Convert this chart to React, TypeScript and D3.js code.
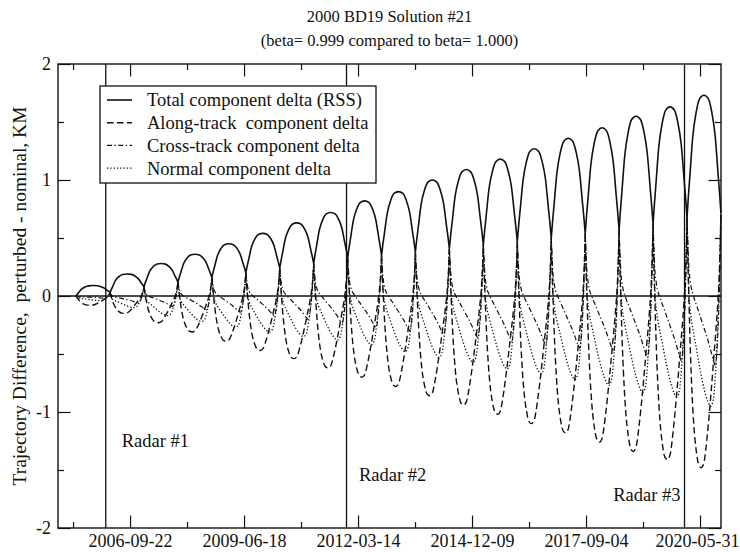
import React, { useRef, useEffect } from 'react';
import * as d3 from 'd3';

// cusp dates bounding each orbital cycle (where all components meet)
const cuspDates = [
  '2005-06-05', '2006-03-31', '2007-01-22', '2007-11-16', '2008-09-09',
  '2009-07-04', '2010-04-27', '2011-02-19', '2011-12-14', '2012-10-06',
  '2013-07-30', '2014-05-24', '2015-03-18', '2016-01-10', '2016-11-03',
  '2017-08-28', '2018-06-21', '2019-04-15', '2020-02-07', '2020-11-30',
];
// height of the meeting point at each cusp, KM
const cuspLevels = [
  0, 0.03, 0.08, 0.12, 0.16, 0.2, 0.24, 0.28, 0.33, 0.35,
  0.38, 0.41, 0.44, 0.47, 0.5, 0.54, 0.57, 0.62, 0.68, 0.72,
];

// extreme value reached in each cycle, KM
const totalPeaks = [
  0.09, 0.19, 0.28, 0.36, 0.45, 0.54, 0.63, 0.72, 0.82, 0.9,
  1.0, 1.09, 1.18, 1.27, 1.36, 1.45, 1.55, 1.63, 1.73,
];
const alongMins = [
  -0.08, -0.15, -0.23, -0.31, -0.39, -0.47, -0.54, -0.62, -0.7, -0.78,
  -0.86, -0.94, -1.02, -1.1, -1.18, -1.26, -1.34, -1.41, -1.48,
];
const crossMins = [
  -0.02, -0.06, -0.09, -0.12, -0.14, -0.17, -0.2, -0.23, -0.27, -0.3,
  -0.33, -0.36, -0.39, -0.42, -0.45, -0.48, -0.53, -0.56, -0.6,
];
const normalMins = [
  -0.04, -0.1, -0.17, -0.22, -0.27, -0.31, -0.35, -0.38, -0.42, -0.48,
  -0.53, -0.57, -0.63, -0.67, -0.72, -0.77, -0.83, -0.87, -0.95,
];

const totalShape: [number, number][] = [
  [0, 0], [0.04, 0.17], [0.08, 0.32], [0.17, 0.66], [0.27, 0.86], [0.37, 0.97],
  [0.5, 1], [0.63, 0.97], [0.73, 0.86], [0.83, 0.66], [0.92, 0.32], [0.96, 0.17], [1, 0],
];
const alongShape: [number, number][] = [
  [0, 0], [0.02, 0.14], [0.05, 0.3], [0.1, 0.54], [0.15, 0.71], [0.2, 0.83],
  [0.27, 0.93], [0.35, 0.99], [0.42, 1], [0.5, 0.98], [0.6, 0.87], [0.7, 0.72],
  [0.8, 0.55], [0.9, 0.37], [0.95, 0.25], [0.98, 0.13], [1, 0],
];
const crossShape: [number, number][] = [
  [0, 0], [0.02, 0.15], [0.05, 0.32], [0.1, 0.44], [0.2, 0.54], [0.3, 0.61],
  [0.4, 0.68], [0.5, 0.75], [0.6, 0.82], [0.7, 0.9], [0.8, 0.98], [0.84, 1],
  [0.89, 0.88], [0.94, 0.6], [0.97, 0.35], [1, 0],
];
const normalShape: [number, number][] = [
  [0, 0], [0.02, 0.15], [0.05, 0.38], [0.1, 0.5], [0.18, 0.6], [0.25, 0.67],
  [0.4, 0.82], [0.55, 0.94], [0.7, 1], [0.78, 0.96], [0.85, 0.8], [0.9, 0.62],
  [0.95, 0.38], [1, 0],
];

const radarDates = ['2006-02-21', '2011-12-04', '2020-01-16'];
const radarLabels = ['Radar #1', 'Radar #2', 'Radar #3'];

const xDomain = ['2004-12-29', '2020-12-01'];
const xTicks = ['2006-09-22', '2009-06-18', '2012-03-14', '2014-12-09', '2017-09-04', '2020-05-31'];
const yTicks = [-2, -1, 0, 1, 2];
const yMinorTicks = [-1.5, -0.5, 0.5, 1.5];

const legendLabels = [
  'Total component delta (RSS)',
  'Along-track  component delta',
  'Cross-track component delta',
  'Normal component delta',
];

const App = () => {
  const ref = useRef<SVGSVGElement | null>(null);

  const width = 740;
  const height = 552;

  useEffect(() => {
    if (!ref.current) return;

    const frame = { left: 58, right: 721, top: 64, bottom: 528 };
    const font = '"Liberation Serif", "Times New Roman", serif';
    const ink = '#111';

    const x = d3
      .scaleUtc()
      .domain(xDomain.map((d) => new Date(d)))
      .range([frame.left, frame.right]);
    const y = d3.scaleLinear().domain([-2, 2]).range([frame.bottom, frame.top]);

    const cusps = cuspDates.map((d) => new Date(d).getTime());

    const lobes = (extremes: number[], shape: [number, number][]) =>
      extremes.map((v, i) => {
        const t0 = cusps[i];
        const t1 = cusps[i + 1];
        return shape.map(([f, r]) => {
          const base = cuspLevels[i] + (cuspLevels[i + 1] - cuspLevels[i]) * f;
          return [t0 + (t1 - t0) * f, base + (v - base) * r] as [number, number];
        });
      });

    const line = d3
      .line<[number, number]>()
      .x((d) => x(d[0]))
      .y((d) => y(d[1]))
      .curve(d3.curveMonotoneX);

    const series = [
      { lobes: lobes(totalPeaks, totalShape), dash: '', w: 1.6 },
      { lobes: lobes(alongMins, alongShape), dash: '6.5,3.5', w: 1.4 },
      { lobes: lobes(crossMins, crossShape), dash: '5,2.5,1.3,2.5', w: 1.2 },
      { lobes: lobes(normalMins, normalShape), dash: '1.3,2', w: 1.3 },
    ];

    const svg = d3.select(ref.current);
    svg.selectAll('*').remove();

    svg.append('rect').attr('width', width).attr('height', height).attr('fill', '#fff');

    // titles
    svg
      .append('text')
      .attr('x', (frame.left + frame.right) / 2)
      .attr('y', 22)
      .attr('text-anchor', 'middle')
      .attr('font-family', font)
      .attr('font-size', 16.5)
      .attr('fill', ink)
      .text('2000 BD19 Solution #21');
    svg
      .append('text')
      .attr('x', (frame.left + frame.right) / 2)
      .attr('y', 46)
      .attr('text-anchor', 'middle')
      .attr('font-family', font)
      .attr('font-size', 16.5)
      .attr('fill', ink)
      .text('(beta= 0.999 compared to beta= 1.000)');

    // y axis title
    svg
      .append('text')
      .attr('transform', `translate(26,${(frame.top + frame.bottom) / 2}) rotate(-90)`)
      .attr('text-anchor', 'middle')
      .attr('font-family', font)
      .attr('font-size', 19.5)
      .attr('fill', ink)
      .style('white-space', 'pre')
      .text('Trajectory Difference,  perturbed - nominal, KM');

    // zero line
    svg
      .append('line')
      .attr('x1', frame.left)
      .attr('x2', frame.right)
      .attr('y1', y(0))
      .attr('y2', y(0))
      .attr('stroke', ink)
      .attr('stroke-width', 1.3);

    // radar epochs
    radarDates.forEach((d, i) => {
      const rx = x(new Date(d));
      svg
        .append('line')
        .attr('x1', rx)
        .attr('x2', rx)
        .attr('y1', frame.top)
        .attr('y2', frame.bottom)
        .attr('stroke', ink)
        .attr('stroke-width', 1.3);
      const pos = [
        { dx: 16, y: 447, anchor: 'start' },
        { dx: 12.5, y: 481, anchor: 'start' },
        { dx: -4, y: 501, anchor: 'end' },
      ][i];
      svg
        .append('text')
        .attr('x', rx + pos.dx)
        .attr('y', pos.y)
        .attr('text-anchor', pos.anchor)
        .attr('font-family', font)
        .attr('font-size', 18.5)
        .attr('fill', ink)
        .text(radarLabels[i]);
    });

    // curves
    svg
      .append('g')
      .selectAll('path')
      .data(series)
      .join('path')
      .attr('d', (s) => s.lobes.map((l) => line(l)).join(''))
      .attr('fill', 'none')
      .attr('stroke', ink)
      .attr('stroke-width', (s) => s.w)
      .attr('stroke-dasharray', (s) => s.dash || null);

    // frame
    svg
      .append('rect')
      .attr('x', frame.left)
      .attr('y', frame.top)
      .attr('width', frame.right - frame.left)
      .attr('height', frame.bottom - frame.top)
      .attr('fill', 'none')
      .attr('stroke', ink)
      .attr('stroke-width', 1.4);

    // axes (ticks point inward on all four sides)
    const majorDates = xTicks.map((d) => new Date(d));
    const minorDates = [d3.utcDay.offset(majorDates[0], -500), ...majorDates.map((d) => d3.utcDay.offset(d, 500))].filter(
      (d) => d >= x.domain()[0] && d <= x.domain()[1]
    );
    const styleAxis = (g: any) => {
      g.select('.domain').remove();
      g.selectAll('line').attr('stroke', ink).attr('stroke-width', 1.2);
      g.selectAll('text').attr('font-family', font).attr('font-size', 18).attr('fill', ink);
    };

    const bottom = svg
      .append('g')
      .attr('transform', `translate(0,${frame.bottom})`)
      .call(d3.axisBottom(x).tickValues(majorDates).tickSize(-12.5).tickPadding(6).tickFormat(d3.utcFormat('%Y-%m-%d') as any))
      .call(styleAxis);
    // keep the last date label inside the page
    bottom
      .selectAll('text')
      .filter((_, i, n) => i === n.length - 1)
      .attr('dx', -3);

    svg
      .append('g')
      .attr('transform', `translate(0,${frame.bottom})`)
      .call(d3.axisBottom(x).tickValues(minorDates).tickSize(-6).tickFormat(() => ''))
      .call(styleAxis);
    svg
      .append('g')
      .attr('transform', `translate(0,${frame.top})`)
      .call(d3.axisTop(x).tickValues(majorDates).tickSize(-12.5).tickFormat(() => ''))
      .call(styleAxis);
    svg
      .append('g')
      .attr('transform', `translate(0,${frame.top})`)
      .call(d3.axisTop(x).tickValues(minorDates).tickSize(-6).tickFormat(() => ''))
      .call(styleAxis);

    svg
      .append('g')
      .attr('transform', `translate(${frame.left},0)`)
      .call(d3.axisLeft(y).tickValues(yTicks).tickSize(-12.5).tickPadding(7).tickFormat((d) => String(d)))
      .call(styleAxis);
    svg
      .append('g')
      .attr('transform', `translate(${frame.left},0)`)
      .call(d3.axisLeft(y).tickValues(yMinorTicks).tickSize(-6).tickFormat(() => ''))
      .call(styleAxis);
    svg
      .append('g')
      .attr('transform', `translate(${frame.right},0)`)
      .call(d3.axisRight(y).tickValues(yTicks).tickSize(-12.5).tickFormat(() => ''))
      .call(styleAxis);
    svg
      .append('g')
      .attr('transform', `translate(${frame.right},0)`)
      .call(d3.axisRight(y).tickValues(yMinorTicks).tickSize(-6).tickFormat(() => ''))
      .call(styleAxis);

    // legend
    const legend = svg.append('g');
    legend
      .append('rect')
      .attr('x', 100)
      .attr('y', 86)
      .attr('width', 276)
      .attr('height', 97)
      .attr('fill', '#fff')
      .attr('stroke', ink)
      .attr('stroke-width', 1.3);
    const rows = legend
      .selectAll('g.row')
      .data(series)
      .join('g')
      .attr('class', 'row')
      .attr('transform', (_, i) => `translate(0,${100 + i * 22.7})`);
    rows
      .append('line')
      .attr('x1', 107)
      .attr('x2', 132)
      .attr('stroke', ink)
      .attr('stroke-width', (s) => s.w)
      .attr('stroke-dasharray', (s) => s.dash || null);
    rows
      .append('text')
      .attr('x', 147)
      .attr('dy', '0.35em')
      .attr('font-family', font)
      .attr('font-size', 18.5)
      .attr('fill', ink)
      .style('white-space', 'pre')
      .text((_, i) => legendLabels[i]);
  }, []);

  return (
    <svg
      ref={ref}
      width={width}
      height={height}
      viewBox={`0 0 ${width} ${height}`}
      style={{ position: 'absolute', left: 0, top: 0, display: 'block' }}
    />
  );
};

export default App;
